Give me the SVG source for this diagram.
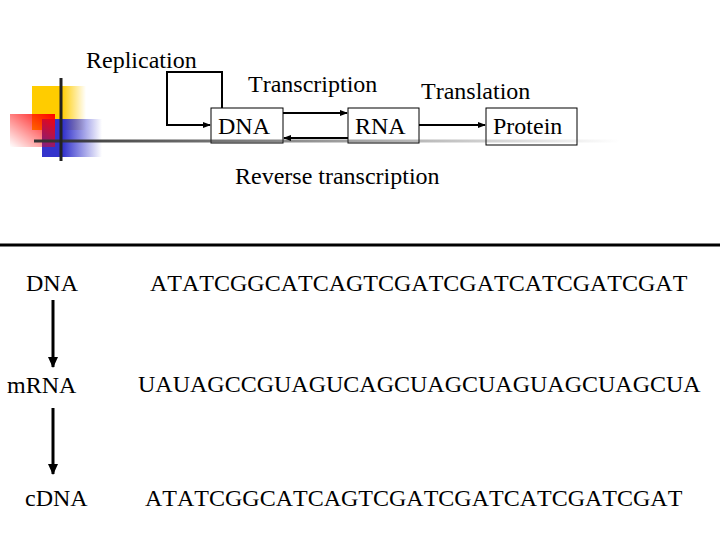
<svg xmlns="http://www.w3.org/2000/svg" width="720" height="540" viewBox="0 0 720 540">
<style>
text{font-family:"Liberation Serif","Times New Roman",serif;font-size:24px;fill:#000;font-kerning:none}
.box{fill:#fff;stroke:#000;stroke-width:1}
.ln{fill:none;stroke:#000;stroke-width:2}
.thick{fill:none;stroke:#000;stroke-width:3}
</style>
<defs>
<marker id="ah" markerWidth="8" markerHeight="8" refX="7" refY="4" orient="auto" markerUnits="userSpaceOnUse"><path d="M0,1 L8,4 L0,7 Z" fill="#000"/></marker>
<marker id="ahb" markerWidth="12" markerHeight="12" refX="10" refY="6" orient="auto" markerUnits="userSpaceOnUse"><path d="M0,1 L11,6 L0,11 Z" fill="#000"/></marker>
<linearGradient id="gy" x1="0" y1="0" x2="1" y2="0"><stop offset="0.55" stop-color="#ffcc00"/><stop offset="1" stop-color="#ffcc00" stop-opacity="0"/></linearGradient>
<linearGradient id="gr" x1="1" y1="0" x2="0" y2="1"><stop offset="0" stop-color="#ff0000"/><stop offset="1" stop-color="#ff0000" stop-opacity="0"/></linearGradient>
<linearGradient id="gb" x1="0" y1="0" x2="1" y2="0"><stop offset="0.35" stop-color="#3333cc"/><stop offset="1" stop-color="#3333cc" stop-opacity="0"/></linearGradient>
<linearGradient id="gl" x1="34" y1="0" x2="620" y2="0" gradientUnits="userSpaceOnUse"><stop offset="0" stop-color="#333"/><stop offset="1" stop-color="#333" stop-opacity="0"/></linearGradient>
</defs>
<g id="decor">
<rect x="32" y="86" width="54" height="44" fill="url(#gy)"/>
<rect x="42" y="119" width="60" height="38" fill="url(#gb)"/>
<rect x="10" y="114" width="45" height="33" fill="url(#gr)"/>
</g>
<g id="labels">
<text x="86" y="68">Replication</text>
<text x="248" y="92">Transcription</text>
<text x="421" y="99">Translation</text>
<text x="235" y="184">Reverse transcription</text>
</g>
<g id="node-dna"><rect class="box" x="211" y="108" width="72" height="35"/><text x="218" y="134">DNA</text></g>
<g id="node-rna"><rect class="box" x="348" y="108" width="71" height="35"/><text x="355" y="134">RNA</text></g>
<g id="node-protein"><rect class="box" x="486" y="108" width="91" height="37"/><text x="493" y="134">Protein</text></g>
<line x1="34" y1="141" x2="620" y2="141" stroke="url(#gl)" stroke-width="3"/>
<line x1="61" y1="78" x2="61" y2="161" stroke="#222" stroke-width="3"/>
<g id="connectors">
<path class="ln" d="M222,108 V72 H167 V125 H210" marker-end="url(#ah)"/>
<line class="ln" x1="283" y1="113" x2="347" y2="113" marker-end="url(#ah)"/>
<line class="ln" x1="348" y1="138" x2="284" y2="138" marker-end="url(#ah)"/>
<line class="ln" x1="419" y1="125" x2="485" y2="125" marker-end="url(#ah)"/>
<line class="thick" x1="53" y1="300" x2="53" y2="367" marker-end="url(#ahb)"/>
<line class="thick" x1="53" y1="408" x2="53" y2="474" marker-end="url(#ahb)"/>
</g>
<line x1="0" y1="245" x2="720" y2="245" stroke="#000" stroke-width="3"/>
<g id="rows">
<text x="26" y="291">DNA</text>
<text x="150" y="291">ATATCGGCATCAGTCGATCGATCATCGATCGAT</text>
<text x="7" y="393">mRNA</text>
<text x="138" y="392">UAUAGCCGUAGUCAGCUAGCUAGUAGCUAGCUA</text>
<text x="25" y="506">cDNA</text>
<text x="145" y="506">ATATCGGCATCAGTCGATCGATCATCGATCGAT</text>
</g>
</svg>
